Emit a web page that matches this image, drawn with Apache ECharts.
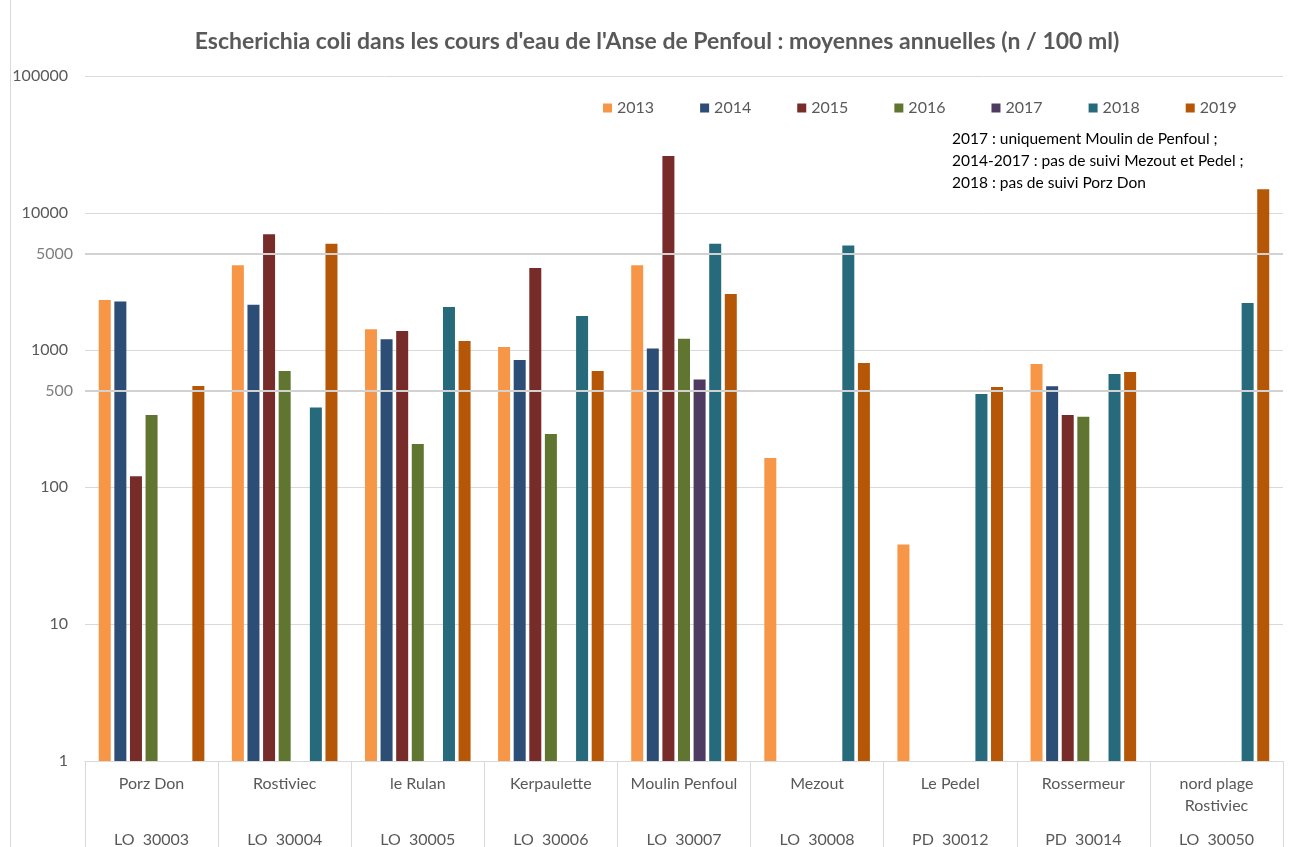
<!DOCTYPE html>
<html>
<head>
<meta charset="utf-8">
<script src="https://cdn.jsdelivr.net/npm/echarts@6/dist/echarts.min.js"></script>
<style>
  html, body { margin: 0; padding: 0; background: #fff; }
  #chart { width: 1290px; height: 847px; }
</style>
</head>
<body>
<div id="chart"></div>
<script>
// Sampling stations (name lines) and their station codes
const categories = ['Porz Don', 'Rostiviec', 'le Rulan', 'Kerpaulette', 'Moulin Penfoul', 'Mezout', 'Le Pedel', 'Rossermeur', 'nord plage\nRostiviec'];
const stationCodes = ['LO  30003', 'LO  30004', 'LO  30005', 'LO  30006', 'LO  30007', 'LO  30008', 'PD  30012', 'PD  30014', 'LO  30050'];

const years = ['2013', '2014', '2015', '2016', '2017', '2018', '2019'];
const yearColors = ['#F79646', '#2C4D75', '#772C2A', '#5F7530', '#4D3B62', '#276A7C', '#B65708'];

// Annual mean E. coli counts (n / 100 ml); null = no monitoring
const v2013 = [2320, 4160, 1420, 1050, 4160, 163, 38, 790, null];
const v2014 = [2260, 2140, 1200, 846, 1025, null, null, 543, null];
const v2015 = [120, 7000, 1376, 3970, 26060, null, null, 335, null];
const v2016 = [335, 703, 206, 244, 1210, null, null, 326, null];
const v2017 = [null, null, null, null, 610, null, null, null, null];
const v2018 = [null, 380, 2060, 1770, 5970, 5780, 477, 668, 2200];
const v2019 = [546, 5970, 1163, 703, 2560, 804, 537, 691, 14890];
const seriesValues = [v2013, v2014, v2015, v2016, v2017, v2018, v2019];

// Reference thresholds drawn across the plot
const thresholds = [500, 5000];

const noteLines = [
  '2017 : uniquement Moulin de Penfoul ;',
  '2014-2017 : pas de suivi Mezout et Pedel ;',
  '2018 : pas de suivi Porz Don'
];
const titleText = "Escherichia coli dans les cours d'eau de l'Anse de Penfoul : moyennes annuelles (n / 100 ml)";

const FONT = 'Lato, "Open Sans", sans-serif';
const GREY = '#595959';

const chart = echarts.init(document.getElementById('chart'), null, { renderer: 'canvas' });

const barSeries = years.map((y, i) => ({
  name: y,
  type: 'bar',
  data: seriesValues[i],
  barWidth: 12,
  barGap: '30%',
  itemStyle: { color: yearColors[i] },
  z: 2
}));

// Threshold lines sit above the bars
const thresholdSeries = {
  name: 'seuils',
  type: 'line',
  data: [],
  z: 5,
  silent: true,
  markLine: {
    silent: true,
    symbol: 'none',
    animation: false,
    lineStyle: { color: '#d2d2d2', width: 2, type: 'solid' },
    label: {
      position: 'start',
      distance: 12,
      color: '#7f7f7f',
      fontFamily: FONT,
      fontSize: 16,
      formatter: p => String(p.value)
    },
    data: thresholds.map(t => ({ yAxis: t }))
  }
};

const option = {
  animation: false,
  textStyle: { fontFamily: FONT },
  grid: { left: 85, right: 7, top: 76, bottom: 86, containLabel: false, outerBoundsMode: 'none' },
  legend: {
    data: years,
    left: 598,
    top: 95,
    itemWidth: 9,
    itemHeight: 9,
    itemGap: 46,
    icon: 'rect',
    textStyle: { color: GREY, fontSize: 16, fontFamily: FONT }
  },
  xAxis: {
    type: 'category',
    data: categories,
    axisLine: { show: true, lineStyle: { color: '#d9d9d9', width: 1 } },
    axisTick: { show: true, length: 90, lineStyle: { color: '#d9d9d9' } },
    axisLabel: {
      interval: 0,
      margin: 12,
      color: GREY,
      fontSize: 16,
      fontFamily: FONT,
      lineHeight: 22,
      formatter: (value, idx) => {
        const lines = value.split('\n');
        while (lines.length < 2) lines.push(' ');
        return lines.join('\n') + '\n{c|' + stationCodes[idx] + '}';
      },
      rich: {
        c: { color: GREY, fontSize: 16, fontFamily: FONT, lineHeight: 46 }
      }
    }
  },
  yAxis: {
    type: 'log',
    logBase: 10,
    min: 1,
    max: 100000,
    axisLine: { show: false },
    axisTick: { show: false },
    axisLabel: {
      color: GREY, fontSize: 16, fontFamily: FONT, margin: 17,
      formatter: v => String(Math.round(v))
    },
    splitLine: { lineStyle: { color: '#d9d9d9', width: 1 } }
  },
  graphic: [
    {
      type: 'line',
      shape: { x1: 10.5, y1: 0, x2: 10.5, y2: 847 },
      style: { stroke: '#d9d9d9', lineWidth: 1 },
      silent: true
    },
    {
      type: 'text',
      x: 657,
      y: 42,
      style: {
        text: titleText,
        font: 'bold 23px ' + FONT,
        fill: GREY,
        textAlign: 'center',
        textVerticalAlign: 'middle'
      }
    },
    {
      type: 'text',
      x: 952,
      y: 128,
      style: {
        text: noteLines.join('\n'),
        font: '15.5px ' + FONT,
        lineHeight: 22,
        fill: '#000'
      }
    }
  ],
  series: barSeries.concat([thresholdSeries])
};

chart.setOption(option);
</script>
</body>
</html>
